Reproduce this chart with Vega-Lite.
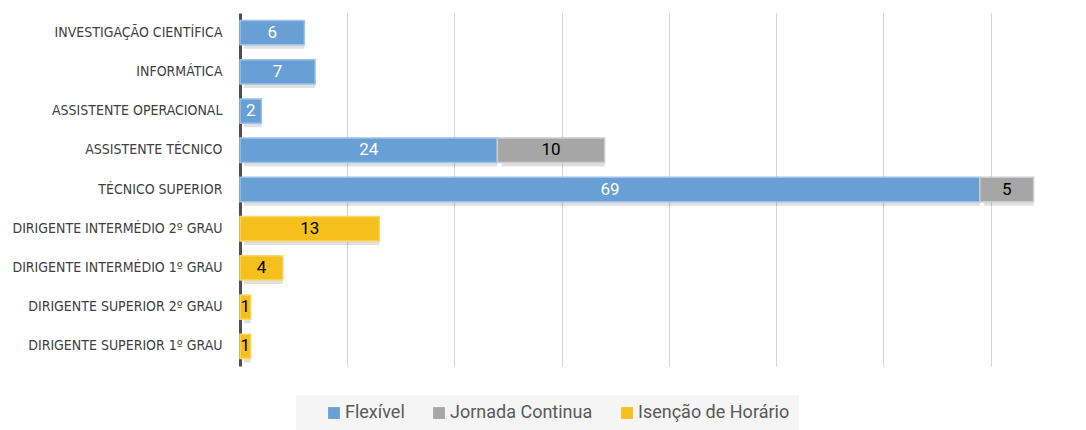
{
  "$schema": "https://vega.github.io/schema/vega-lite/v6.json",
  "autosize": "none",
  "width": 815,
  "height": 353,
  "padding": {"left": 240, "top": 13, "right": 31, "bottom": 64},
  "background": "white",
  "data": {"values": [
    {"cat": "Investigação Científica", "type": "Flexível", "ord": 1, "value": 6},
    {"cat": "Informática", "type": "Flexível", "ord": 1, "value": 7},
    {"cat": "Assistente Operacional", "type": "Flexível", "ord": 1, "value": 2},
    {"cat": "Assistente Técnico", "type": "Flexível", "ord": 1, "value": 24},
    {"cat": "Assistente Técnico", "type": "Jornada Continua", "ord": 2, "value": 10},
    {"cat": "Técnico Superior", "type": "Flexível", "ord": 1, "value": 69},
    {"cat": "Técnico Superior", "type": "Jornada Continua", "ord": 2, "value": 5},
    {"cat": "Dirigente Intermédio 2º Grau", "type": "Isenção de Horário", "ord": 3, "value": 13},
    {"cat": "Dirigente Intermédio 1º Grau", "type": "Isenção de Horário", "ord": 3, "value": 4},
    {"cat": "Dirigente Superior 2º Grau", "type": "Isenção de Horário", "ord": 3, "value": 1},
    {"cat": "Dirigente Superior 1º Grau", "type": "Isenção de Horário", "ord": 3, "value": 1}
  ]},
  "transform": [
    {"stack": "value", "groupby": ["cat"], "sort": [{"field": "ord", "order": "ascending"}], "as": ["x0", "x1"]},
    {"calculate": "(datum.x0 + datum.x1) / 2", "as": "mid"}
  ],
  "encoding": {
    "y": {
      "field": "cat", "type": "nominal",
      "sort": ["Investigação Científica", "Informática", "Assistente Operacional", "Assistente Técnico", "Técnico Superior", "Dirigente Intermédio 2º Grau", "Dirigente Intermédio 1º Grau", "Dirigente Superior 2º Grau", "Dirigente Superior 1º Grau"],
      "scale": {"paddingInner": 0.38, "paddingOuter": 0.19},
      "axis": {
        "title": null,
        "labelExpr": "upper(datum.label)",
        "labelFont": "Liberation Sans Narrow, DejaVu Sans Condensed, sans-serif",
        "labelFontSize": 14,
        "labelColor": "#404040",
        "labelPadding": 18,
        "labelLimit": 300,
        "ticks": false,
        "domainColor": "#505050",
        "domainWidth": 3,
        "grid": false
      }
    }
  },
  "layer": [
    {
      "mark": {"type": "bar", "fill": "#000000", "opacity": 0.12, "xOffset": 4, "yOffset": 4},
      "encoding": {
        "x": {"field": "x0", "type": "quantitative", "scale": {"domain": [0, 76], "nice": false}, "axis": {"title": null, "values": [10, 20, 30, 40, 50, 60, 70], "labels": false, "ticks": false, "domain": false, "grid": true, "gridColor": "#d4d4d4", "gridWidth": 1}},
        "x2": {"field": "x1"}
      }
    },
    {
      "mark": {"type": "bar", "strokeWidth": 1.5},
      "encoding": {
        "x": {"field": "x0", "type": "quantitative"},
        "x2": {"field": "x1"},
        "fill": {
          "field": "type", "type": "nominal",
          "scale": {"domain": ["Flexível", "Jornada Continua", "Isenção de Horário"], "range": ["#689fd4", "#a6a6a6", "#f5bf1c"]},
          "legend": {
            "title": null,
            "orient": "none",
            "legendX": 56,
            "legendY": 382,
            "direction": "horizontal",
            "symbolType": "square",
            "symbolSize": 140,
            "symbolStrokeWidth": 0,
            "symbolOffset": 20,
            "labelFont": "Roboto, sans-serif",
            "labelFontSize": 18,
            "labelColor": "#595959",
            "columnPadding": 5,
            "padding": 9,
            "fillColor": "#f5f5f5",
            "labelOffset": 2
          }
        },
        "stroke": {
          "field": "type", "type": "nominal",
          "scale": {"domain": ["Flexível", "Jornada Continua", "Isenção de Horário"], "range": ["#9cc2e8", "#cccccc", "#fad768"]},
          "legend": null
        }
      }
    },
    {
      "mark": {"type": "text", "font": "Roboto, sans-serif", "fontSize": 17, "baseline": "middle", "align": "center"},
      "encoding": {
        "x": {"field": "mid", "type": "quantitative"},
        "text": {"field": "value", "type": "quantitative"},
        "color": {"condition": {"test": "datum.type === 'Flexível'", "value": "white"}, "value": "black"}
      }
    }
  ],
  "config": {"view": {"stroke": null}}
}
